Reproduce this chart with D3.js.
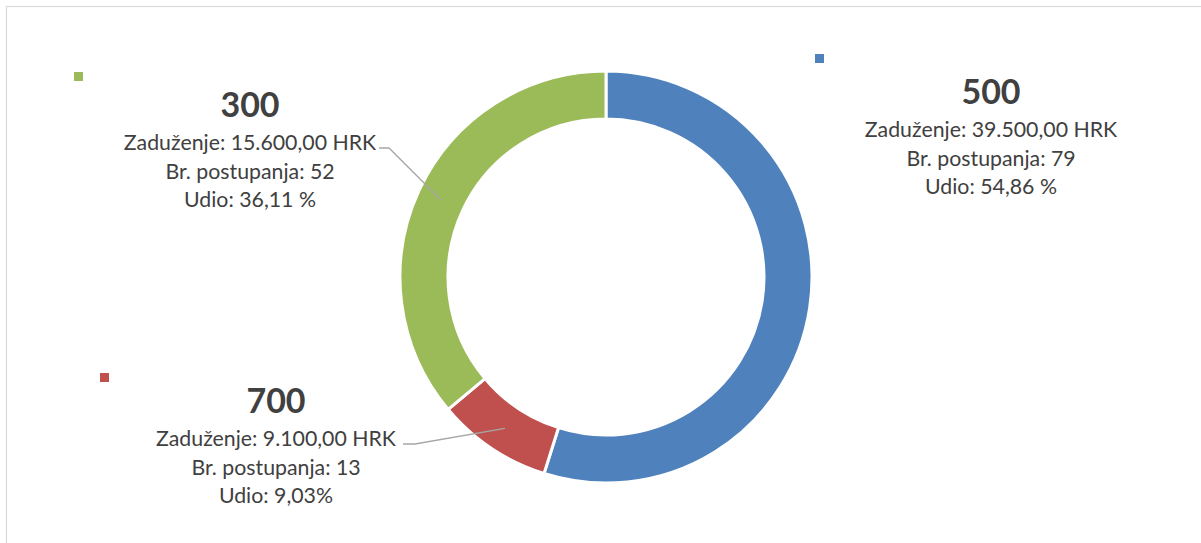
<!DOCTYPE html>
<html><head><meta charset="utf-8">
<script src="https://cdn.jsdelivr.net/npm/d3@7"></script>
<style>html,body{margin:0;padding:0;background:#fff;}svg{display:block;}</style>
</head><body>
<svg id="c" width="1201" height="543"></svg>
<script>
const categories = ["500", "700", "300"];
const counts = [79, 13, 52];
const amounts = ["39.500,00 HRK", "9.100,00 HRK", "15.600,00 HRK"];
const shares = ["54,86 %", "9,03%", "36,11 %"];
const colors = ["#4F81BD", "#C0504D", "#9BBB59"];

const svg = d3.select("#c");
svg.append("rect").attr("x",6.5).attr("y",6.5).attr("width",1200).attr("height",540)
  .attr("fill","none").attr("stroke","#d9d9d9").attr("stroke-width",1.2);

const cx = 606, cy = 277, rOut = 206, rIn = 158;
const g = svg.append("g").attr("transform",`translate(${cx},${cy})`);
const data = categories.map((c,i)=>({cat:c,value:counts[i],amount:amounts[i],share:shares[i],color:colors[i]}));
const pie = d3.pie().value(d=>d.value).sort(null);
const arc = d3.arc().innerRadius(rIn).outerRadius(rOut);
const arcs = pie(data);
g.selectAll("path").data(arcs).enter().append("path")
  .attr("d",arc).attr("fill",d=>d.data.color)
  .attr("stroke","#fff").attr("stroke-width",3).attr("stroke-linejoin","miter");

// label layout (positions only)
const layout = [
  {x:991, y:104, mx:815, my:54, line:null},
  {x:276, y:413, mx:100, my:373, line:{sx:403, sy:444, hx:415}},
  {x:250, y:117, mx:74, my:72, line:{sx:379, sy:148, hx:389}}
];
const textColor = "#404040";
const font = "Lato, 'Liberation Sans', sans-serif";
arcs.forEach((a,i)=>{
  const L = layout[i];
  const d = a.data;
  svg.append("rect").attr("x",L.mx).attr("y",L.my).attr("width",9).attr("height",9).attr("fill",d.color);
  const t = svg.append("text").attr("text-anchor","middle").attr("font-family",font).attr("fill",textColor);
  t.append("tspan").attr("x",L.x).attr("y",L.y).attr("font-size",34).attr("font-weight","bold").text(d.cat);
  const lines = ["Zaduženje: " + d.amount, "Br. postupanja: " + d.value, "Udio: " + d.share];
  lines.forEach((s,k)=>{
    t.append("tspan").attr("x",L.x).attr("y",L.y+33+k*28.7).attr("font-size",21.3).text(s);
  });
  if (L.line) {
    const mid = (a.startAngle + a.endAngle)/2;
    const rr = (rIn + rOut)/2;
    const px = cx + Math.sin(mid)*rr, py = cy - Math.cos(mid)*rr;
    svg.append("polyline")
      .attr("points", `${L.line.sx},${L.line.sy} ${L.line.hx},${L.line.sy} ${px},${py}`)
      .attr("fill","none").attr("stroke","#a6a6a6").attr("stroke-width",1.3);
  }
});
</script>
</body></html>
